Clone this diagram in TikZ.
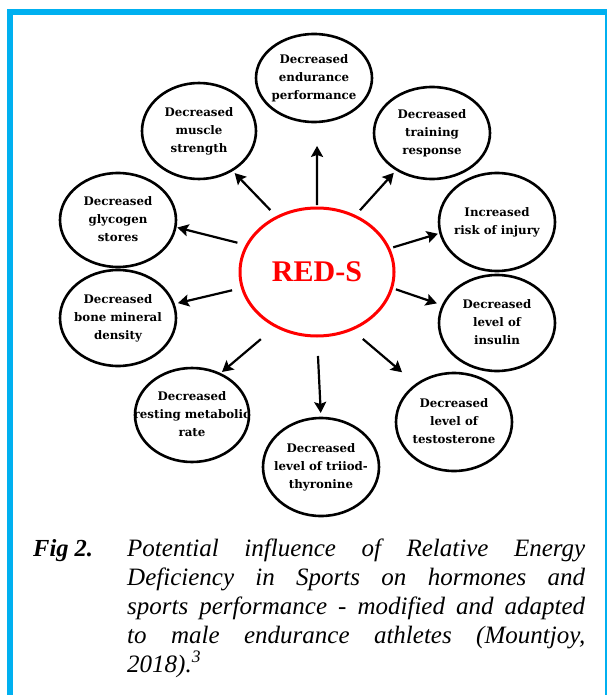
\documentclass[tikz,border=0pt]{standalone}
\usepackage{fontspec}
\setmainfont{Liberation Serif}
\newfontfamily\bubfont{DejaVu Serif}
\usetikzlibrary{shapes.geometric, arrows.meta}

\definecolor{framecol}{RGB}{0,176,240}
% text inside a bubble does not widen the ellipse
\newcommand{\bubtext}[1]{\makebox[0pt]{\begin{tabular}{@{}c@{}}#1\end{tabular}}}

\begin{document}
\begin{tikzpicture}[x=1pt, y=-1pt,
  bub/.style={ellipse, draw, line width=2.6pt, inner sep=0pt, outer sep=0pt,
    minimum width=116pt, minimum height=96pt,
    font=\bubfont\bfseries\fontsize{11.8}{18}\selectfont},
  arr/.style={-{Stealth[length=11pt, width=12pt, inset=2pt]}, line width=2.2pt},
  capfont/.style={font=\itshape\fontsize{25}{29}\selectfont}]
\useasboundingbox (0,0) rectangle (608,695);

% Frame
\fill[framecol] (7,9) rectangle (13,695);
\fill[framecol] (7,9) rectangle (607,15);
\fill[framecol] (605,9) rectangle (607,695);

% Centre
\node[ellipse, draw=red, line width=3pt, inner sep=0pt, outer sep=0pt,
  minimum width=154pt, minimum height=128pt, text=red,
  font=\bfseries\fontsize{30}{30}\selectfont] (reds) at (317,272) {RED-S};

% Effects
\node[bub, minimum height=88pt] (endur) at (314,78) {\bubtext{Decreased\\endurance\\performance}};
\node[bub, minimum width=114pt] (musc) at (199,131) {\bubtext{Decreased\\muscle\\strength}};
\node[bub, minimum height=92pt] (train) at (432,133) {\bubtext{Decreased\\training\\response}};
\node[bub, minimum height=94pt] (glyc) at (118,220) {\bubtext{Decreased\\glycogen\\stores}};
\node[bub, minimum height=98pt] (inj) at (497,222) {\bubtext{Increased\\risk of injury}};
\node[bub] (bone) at (118,318) {\bubtext{Decreased\\bone mineral\\density}};
\node[bub] (insl) at (497,323) {\bubtext{Decreased\\level of\\insulin}};
\node[bub, minimum width=114pt, minimum height=94pt] (rest) at (192,415) {\bubtext{Decreased\\resting metabolic\\rate}};
\node[bub, minimum height=98pt] (trii) at (321,467) {\bubtext{Decreased\\level of triiod-\\thyronine}};
\node[bub, minimum height=98pt] (test) at (454,422) {\bubtext{Decreased\\level of\\testosterone}};

% Arrows
\draw[arr, shorten <=3pt, shorten >=24pt] (reds.90) -- (endur.-86);
\draw[arr, shorten <=10pt, shorten >=4pt] (reds.126) -- (musc.-50);
\draw[arr, shorten <=8pt, shorten >=4.5pt] (reds.56) -- (train.-134);
\draw[arr, shorten <=10pt, shorten >=2pt] (reds.159) -- (glyc.-7.5);
\draw[arr, shorten <=10.6pt, shorten >=4.5pt] (reds.192) -- (bone.14);
\draw[arr, shorten <=4.7pt, shorten >=2.7pt] (reds.18) -- (inj.191);
\draw[arr, shorten <=4.6pt, shorten >=6.5pt] (reds.-12) -- (insl.162);
\draw[arr, shorten <=20pt, shorten >=3pt] (reds.233) -- (rest.56);
\draw[arr, shorten <=20pt, shorten >=5pt] (reds.-90) -- (trii.90);
\draw[arr, shorten <=15pt, shorten >=19pt] (reds.-59) -- (test.135);

% Caption
\node[anchor=base west, inner sep=0pt, font=\bfseries\itshape\fontsize{24.5}{29}\selectfont] (figlbl) at (33,556) {Fig 2.};
\node[capfont, anchor=base west, inner sep=0pt, text width=458pt, align=justify] (capt) at (127,556)
  {Potential influence of Relative Energy\linebreak
   Deficiency in Sports on hormones and\linebreak
   sports performance - modified and adapted\linebreak
   to male endurance athletes (Mountjoy,\linebreak
   2018).\textsuperscript{3}};
\end{tikzpicture}
\end{document}
